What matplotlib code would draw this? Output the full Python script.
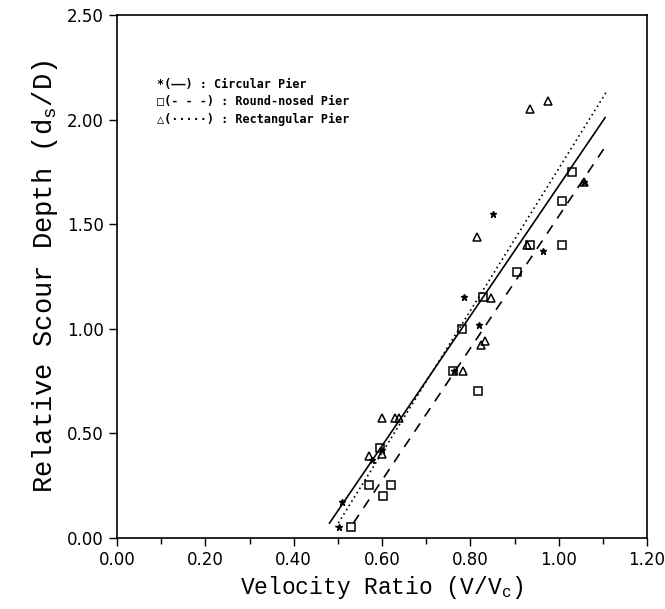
import matplotlib
matplotlib.use("Agg")
import matplotlib.pyplot as plt
from matplotlib.ticker import MultipleLocator

# measured points (V/Vc, ds/D)
circ_x = [0.503, 0.509, 0.577, 0.600, 0.762, 0.786, 0.820, 0.852, 0.965, 1.057]
circ_y = [0.05, 0.17, 0.37, 0.42, 0.80, 1.15, 1.02, 1.55, 1.37, 1.70]

round_x = [0.529, 0.571, 0.603, 0.620, 0.595, 0.760, 0.780, 0.817, 0.828,
           0.906, 0.935, 1.007, 1.008, 1.029]
round_y = [0.05, 0.25, 0.20, 0.25, 0.43, 0.80, 1.00, 0.70, 1.15,
           1.27, 1.40, 1.40, 1.61, 1.75]

rect_x = [0.571, 0.601, 0.601, 0.629, 0.639, 0.784, 0.816, 0.823, 0.832,
          0.847, 0.928, 0.935, 0.976, 1.057]
rect_y = [0.39, 0.40, 0.575, 0.575, 0.575, 0.80, 1.44, 0.92, 0.94,
          1.145, 1.40, 2.05, 2.09, 1.70]

# fitted lines, end points
circ_fit_x = [0.481, 1.105]
circ_fit_y = [0.07, 2.01]
round_fit_x = [0.535, 1.105]
round_fit_y = [0.07, 1.87]
rect_fit_x = [0.495, 1.107]
rect_fit_y = [0.05, 2.13]

legend_lines = ["*(\u2014\u2014) : Circular Pier",
                "\u25a1(- - -) : Round-nosed Pier",
                "\u25b3(\u00b7\u00b7\u00b7\u00b7\u00b7) : Rectangular Pier"]

plt.rcParams['mathtext.default'] = 'regular'

fig = plt.figure(figsize=(6.65, 6.09), dpi=100)
ax = fig.add_axes([0.176, 0.117, 0.797, 0.858])

ax.plot(circ_fit_x, circ_fit_y, color='black', linewidth=1.2, linestyle='-')
ax.plot(round_fit_x, round_fit_y, color='black', linewidth=1.2, linestyle=(0, (6, 5)))
ax.plot(rect_fit_x, rect_fit_y, color='black', linewidth=1.2, linestyle=(0, (1, 2)))

ax.plot(circ_x, circ_y, linestyle='none', marker='*', markersize=5, color='black')
ax.plot(round_x, round_y, linestyle='none', marker='s', markersize=5.5,
        markerfacecolor='none', markeredgecolor='black', markeredgewidth=1.1)
ax.plot(rect_x, rect_y, linestyle='none', marker='^', markersize=6,
        markerfacecolor='none', markeredgecolor='black', markeredgewidth=1.1)

for i, s in enumerate(legend_lines):
    ax.text(0.09, 2.17 - i * 0.085, s, fontsize=8.5, fontweight='bold',
            family=['DejaVu Sans Mono', 'DejaVu Sans'], va='center', ha='left')

ax.set_xlim(0, 1.2)
ax.set_ylim(0, 2.5)
ax.xaxis.set_major_locator(MultipleLocator(0.2))
ax.xaxis.set_minor_locator(MultipleLocator(0.1))
ax.yaxis.set_major_locator(MultipleLocator(0.5))
ax.xaxis.set_major_formatter(plt.FormatStrFormatter('%.2f'))
ax.yaxis.set_major_formatter(plt.FormatStrFormatter('%.2f'))
ax.tick_params(which='major', direction='out', length=6, width=1, labelsize=12)
ax.tick_params(which='minor', direction='out', length=4, width=1)

for sp in ax.spines.values():
    sp.set_linewidth(1.2)

ax.set_xlabel('Velocity Ratio (V/V$_c$)', fontsize=16.5, family='Liberation Mono', labelpad=4)
ax.set_ylabel('Relative Scour Depth (d$_s$/D)', fontsize=19.5, family='Liberation Mono', labelpad=5)

fig.savefig('out.png', dpi=100)
